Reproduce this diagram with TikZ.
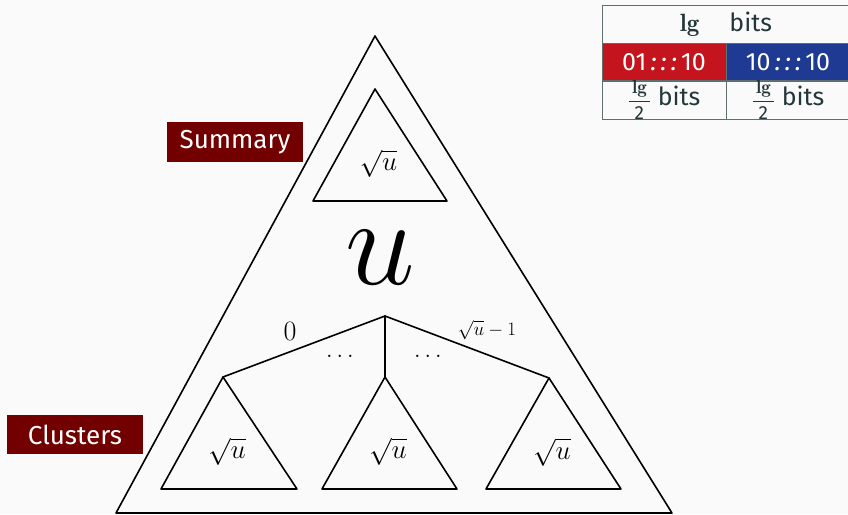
\RequirePackage{fix-cm}
\documentclass[tikz,border=0pt]{standalone}
\usepackage{fontspec}
\setsansfont{Fira Sans}
\newfontfamily\firalight{Fira Sans}
\usepackage{tkz-euclide}
\definecolor{BgClr}{HTML}{FAFAFA}
\definecolor{TextClr}{HTML}{23373B}
\definecolor{TagClr}{HTML}{730000}
\definecolor{LoClr}{HTML}{C4141E}
\definecolor{HiClr}{HTML}{1F3A93}
\definecolor{GridClr}{HTML}{5F6E6E}
\tikzset{
  tag/.style={fill=TagClr,text=white,minimum width=136pt,minimum height=40pt,
    inner sep=0pt,font=\sffamily\fontsize{26}{30}\selectfont},
  cell/.style={draw=GridClr,line width=.8pt,minimum width=124pt,minimum height=38pt,
    inner sep=0pt,text=TextClr,font=\firalight\fontsize{25}{28}\selectfont},
  sqlbl/.style={font=\fontsize{27}{30}\selectfont}
}
\newcommand\halfword{{\fontsize{19}{20}\selectfont$\displaystyle\frac{\,\mathbf{lg}\,}{\mbox{2}}$}\ bits}

\begin{document}
\begin{tikzpicture}[scale=.3515]
\tkzSetUpLine[line width=1.6pt,color=black]

\fill[BgClr] (0,0) rectangle (84.8,51.4);
\useasboundingbox (0,0) rectangle (84.8,51.4);

\tkzDefPoints{37.5/47.8/A,11.6/0.1/B,67.2/0.1/C}
\tkzDefPoints{37.5/42.5/S1,31.3/31.3/S2,44.7/31.3/S3}
\tkzDefPoints{22.3/13.7/K1,16.1/2.5/L1,29.7/2.5/M1}
\tkzDefPoints{38.5/13.7/K2,32.2/2.5/L2,45.7/2.5/M2}
\tkzDefPoints{54.9/13.6/K3,48.6/2.5/L3,62.1/2.5/M3}
\tkzDefPoint(38.5,19.8){R}

\tkzDefTriangleCenter[centroid](S1,S2,S3) \tkzGetPoint{GS}
\tkzDefTriangleCenter[centroid](K1,L1,M1) \tkzGetPoint{G1}
\tkzDefTriangleCenter[centroid](K2,L2,M2) \tkzGetPoint{G2}
\tkzDefTriangleCenter[centroid](K3,L3,M3) \tkzGetPoint{G3}

\tkzDrawPolygon(A,B,C)
\tkzDrawPolygon(S1,S2,S3)
\tkzDrawPolygon(K1,L1,M1)
\tkzDrawPolygon(K2,L2,M2)
\tkzDrawPolygon(K3,L3,M3)
\tkzDrawSegments(R,K1 R,K2 R,K3)

\node[sqlbl] (lS) at (GS) {$\sqrt{u}$};
\node[sqlbl] (l1) at (G1) {$\sqrt{u}$};
\node[sqlbl] (l2) at (G2) {$\sqrt{u}$};
\node[sqlbl] (l3) at (G3) {$\sqrt{u}$};
\node[font=\fontsize{125}{125}\selectfont] (bigu) at (38.0,25.6) {$u$};

\node[font=\fontsize{28}{30}\selectfont] (first) at (29.0,18.3) {$0$};
\node[font=\fontsize{19}{22}\selectfont] (last) at (48.7,18.4) {$\sqrt{u}-1$};
\node[font=\fontsize{24}{26}\selectfont] (dl) at (34.0,15.8) {$\ldots$};
\node[font=\fontsize{24}{26}\selectfont] (dr) at (42.8,15.8) {$\ldots$};

\node[tag] (summ) at (23.5,37.2) {Summary};
\node[tag] (clus) at (7.5,7.95) {Clusters};

% word layout
\node[cell,minimum width=248pt] (w) at (72.6,49.0) {$\mathbf{lg}$\hspace{30pt}bits};
\node[cell,fill=LoClr,text=white] (lo) at (66.4,45.2) {01\,{\itshape :\,:\,:}\,10};
\node[cell,fill=HiClr,text=white] (hi) at (78.8,45.2) {10\,{\itshape :\,:\,:}\,10};
\node[cell] (lob) at (66.4,41.45) {\halfword};
\node[cell] (hib) at (78.8,41.45) {\halfword};

\end{tikzpicture}
\end{document}
